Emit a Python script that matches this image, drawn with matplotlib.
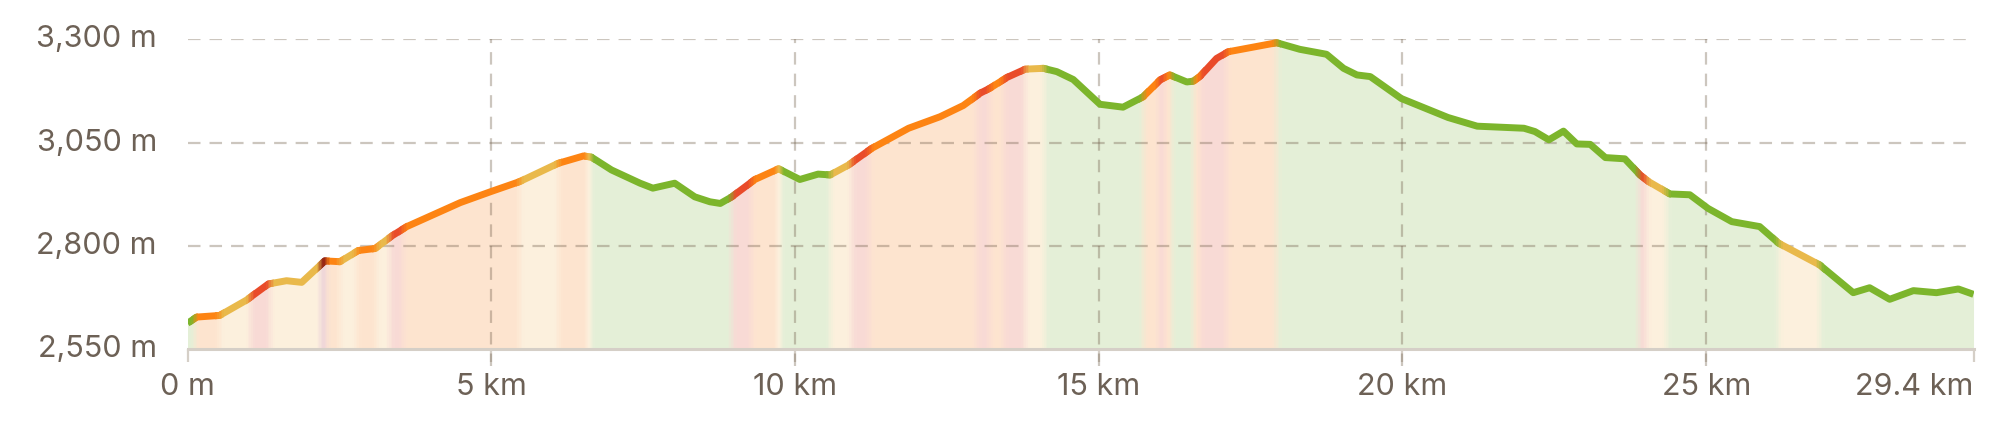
import matplotlib
matplotlib.use('Agg')
import matplotlib.pyplot as plt
from matplotlib.patches import Rectangle
from matplotlib.colors import to_rgb

# ---- data ----
dist_km = [0.0, 0.15, 0.53, 0.97, 1.33, 1.63, 1.88, 2.26, 2.51, 2.81, 3.09, 3.36, 3.61,
           4.49, 5.0, 5.47, 6.10, 6.52, 6.65, 6.98, 7.45, 7.66, 8.02, 8.35, 8.60, 8.77,
           8.96, 9.34, 9.73, 10.08, 10.38, 10.58, 10.88, 11.26, 11.87, 12.39, 12.77,
           13.05, 13.21, 13.49, 13.79, 14.09, 14.31, 14.58, 15.02, 15.40, 15.73, 16.01,
           16.17, 16.45, 16.56, 16.67, 16.94, 17.13, 17.93, 18.31, 18.75, 19.03, 19.25,
           19.47, 19.98, 20.75, 21.23, 22.0, 22.18, 22.41, 22.65, 22.87, 23.09, 23.34,
           23.66, 23.91, 24.05, 24.40, 24.73, 25.03, 25.42, 25.88, 26.19, 26.87, 27.42,
           27.69, 28.02, 28.41, 28.79, 29.15, 29.4]
elev_m = [2613, 2628, 2632, 2669, 2708, 2716, 2712, 2764, 2762, 2789, 2794, 2824, 2847,
          2905, 2932, 2956, 3000, 3018, 3015, 2984, 2952, 2940, 2952, 2919, 2907, 2903,
          2919, 2961, 2987, 2961, 2974, 2972, 2996, 3036, 3085, 3113, 3140,
          3170, 3182, 3208, 3228, 3230, 3222, 3203, 3143, 3136, 3161, 3202,
          3214, 3197, 3199, 3211, 3254, 3270, 3292, 3276, 3264, 3230, 3214,
          3210, 3157, 3111, 3090, 3085, 3077, 3057, 3078, 3047, 3046, 3014,
          3011, 2972, 2956, 2926, 2924, 2891, 2859, 2847, 2807, 2754, 2687,
          2699, 2671, 2692, 2687, 2696, 2683]

band_edges_km = [0, 0.12, 0.53, 1.03, 1.36, 2.18, 2.29, 2.51, 2.78, 3.11, 3.33, 3.55,
                 5.47, 6.10, 6.57, 6.65, 8.96, 9.29, 9.70, 9.78, 10.58, 10.93, 11.23,
                 12.99, 13.21, 13.43, 13.79, 14.11, 15.73, 15.98, 16.09, 16.20, 16.56,
                 16.67, 17.11, 17.93, 23.89, 24.02, 24.35, 26.19, 26.87, 29.4]
band_grades = ['g', 'o', 'y', 'r', 'y', 'd', 'o', 'y', 'o', 'y',
               'r', 'o', 'y', 'o', 'y', 'g', 'r', 'o', 'y', 'g',
               'y', 'r', 'o', 'r', 'o', 'r', 'y', 'g', 'o', 'r',
               'o', 'g', 'o', 'r', 'o', 'g', 'r', 'y', 'g', 'y',
               'g']

x_ticks = [0, 5, 10, 15, 20, 25, 29.4]
x_labels = ['0 m', '5 km', '10 km', '15 km', '20 km', '25 km', '29.4 km']
y_ticks = [2550, 2800, 3050, 3300]
y_labels = ['2,550 m', '2,800 m', '3,050 m', '3,300 m']

# ---- styles ----
line_col = {'g': '#7cb52c', 'y': '#e9b94b', 'o': '#fd8413', 'r': '#e94b2a', 'd': '#8e1d12'}
fill_col = {'g': '#e4efd7', 'y': '#fcf0dd', 'o': '#fde4cf', 'r': '#f8dad5', 'd': '#eed5d9'}
text_col = '#6d6156'
grid_col = (0.45, 0.38, 0.30, 0.36)
blend_half = 0.07   # km, soft transition half-width
blend_steps = 5

plt.rcParams['font.family'] = ['Inter', 'DejaVu Sans']
plt.rcParams['lines.scale_dashes'] = False

fig = plt.figure(figsize=(20.14, 4.21), dpi=100)
ax = fig.add_axes([0.0931, 0.1703, 0.8868, 0.7361])
ax.set_xlim(0, 29.4)
ax.set_ylim(2550, 3300)


def draw_strip(x0, x1, fc, lc):
    clip = Rectangle((x0, 2400), x1 - x0, 1100, transform=ax.transData)
    f = ax.fill_between(dist_km, elev_m, 2550, color=fc, lw=0, zorder=1)
    f.set_clip_path(clip)
    ln, = ax.plot(dist_km, elev_m, color=lc, lw=5.0, zorder=4,
                  solid_capstyle='butt', solid_joinstyle='round')
    ln.set_clip_path(clip)


# base bands
for i, g in enumerate(band_grades):
    draw_strip(band_edges_km[i], band_edges_km[i + 1], fill_col[g], line_col[g])

# soft transitions between bands
for i in range(1, len(band_grades)):
    a, c = band_grades[i - 1], band_grades[i]
    if a == c:
        continue
    b = band_edges_km[i]
    w = min(blend_half,
            0.5 * (band_edges_km[i] - band_edges_km[i - 1]),
            0.5 * (band_edges_km[i + 1] - band_edges_km[i]))
    fa, fcc = to_rgb(fill_col[a]), to_rgb(fill_col[c])
    la, lcc = to_rgb(line_col[a]), to_rgb(line_col[c])
    step = 2 * w / blend_steps
    for k in range(blend_steps):
        t = (k + 0.5) / blend_steps
        fmix = tuple((1 - t) * fa[j] + t * fcc[j] for j in range(3))
        lmix = tuple((1 - t) * la[j] + t * lcc[j] for j in range(3))
        draw_strip(b - w + k * step, b - w + (k + 1) * step, fmix, lmix)

# grid
for yv in y_ticks[1:]:
    ax.axhline(yv, color=grid_col, lw=1.6, dashes=(9, 6.5), zorder=2)
for xv in x_ticks[1:-1]:
    ax.axvline(xv, ymin=-0.055, ymax=1, color=grid_col, lw=1.6, dashes=(9, 6.5),
               zorder=2, clip_on=False)
ax.axhline(2550, color='#d5cfc7', lw=2.2, zorder=3, clip_on=False)

for s in ax.spines.values():
    s.set_visible(False)

ax.set_xticks(x_ticks)
ax.set_xticklabels(x_labels)
ax.set_yticks(y_ticks)
ax.set_yticklabels(y_labels)
ax.tick_params(axis='x', length=9, width=1.6, color='#d5cfc7', pad=8,
               labelsize=22, labelcolor=text_col)
ax.tick_params(axis='y', length=0, pad=22, labelsize=22, labelcolor=text_col)
for lbl in ax.get_yticklabels():
    lbl.set_verticalalignment('center')
xl = ax.get_xticklabels()
xl[-1].set_horizontalalignment('right')

fig.savefig('out.png', dpi=100, facecolor='white')
